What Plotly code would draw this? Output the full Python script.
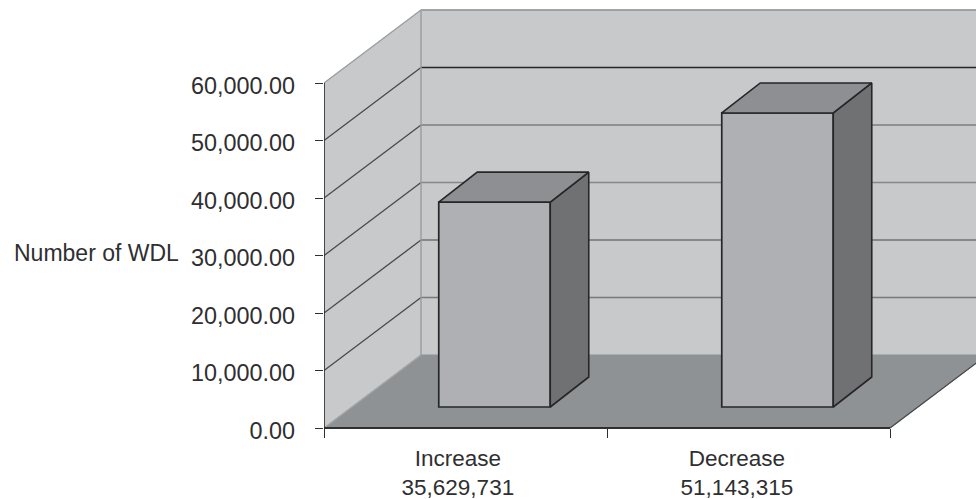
import plotly.graph_objects as go

# Chart content
categories = ["Increase", "Decrease"]
category_totals = ["35,629,731", "51,143,315"]
wdl_values = [35629.731, 51143.315]
y_ticks = [0, 10000, 20000, 30000, 40000, 50000, 60000]
y_tick_labels = ["0.00", "10,000.00", "20,000.00", "30,000.00", "40,000.00", "50,000.00", "60,000.00"]
back_grid_colors = ["#8d8f91", "#77797b", "#6f7173", "#85878a", "#7b7d80", "#26262a", "#8f9193"]
side_grid_colors = ["#a3a5a7", "#46484a", "#46484a", "#46484a", "#46484a", "#46484a", "#9a9c9e"]

# Oblique projection: one step of chart depth in axis units
WIDTH, HEIGHT = 976, 499
LEFT, BOTTOM = 324, 71
BELOW_ZERO = 6            # pixels of plot area kept under the zero line
UNIT_X = 283.0            # pixels per category
UNIT_Y = 57.5 / 10000     # pixels per value unit
DEPTH_X = 97 / UNIT_X
DEPTH_Y = 73 / UNIT_Y
BAR_OFFSET_X = 0.1025
BAR_OFFSET_Y = 21 / UNIT_Y
BAR_WIDTH = 0.394
BAR_DEPTH_X = 38.5 / UNIT_X
BAR_DEPTH_Y = 30 / UNIT_Y
X_MAX = (WIDTH - LEFT) / UNIT_X
Y_MIN = -BELOW_ZERO / UNIT_Y
Y_MAX = (HEIGHT - BOTTOM) / UNIT_Y
X_END = len(categories)
LABEL_DROP = 2.5 / UNIT_Y  # value labels sit slightly below their tick marks
PLOT_HEIGHT = HEIGHT - BOTTOM + BELOW_ZERO

WALL = "#c8c9cb"
FLOOR = "#8f9294"
FRONT = "#afb0b3"
TOP = "#8e8f92"
SIDE = "#707173"
EDGE = "#262628"
TEXT = "#2f2f31"
FONT = "Liberation Sans, Arial, sans-serif"


def polygon(points, fill, line=None, width=1):
    path = "M " + " L ".join(f"{x} {y}" for x, y in points) + " Z"
    return dict(type="path", path=path, xref="x", yref="y", layer="below",
                fillcolor=fill, line=dict(color=line or fill, width=width))


def segment(x0, y0, x1, y1, color, width=1.2, layer="below"):
    return dict(type="line", x0=x0, y0=y0, x1=x1, y1=y1, xref="x", yref="y",
                layer=layer, line=dict(color=color, width=width))


top_tick = y_ticks[-1]
shapes = [
    # back wall, side wall, floor
    polygon([(DEPTH_X, DEPTH_Y), (X_MAX + 1, DEPTH_Y), (X_MAX + 1, top_tick + DEPTH_Y), (DEPTH_X, top_tick + DEPTH_Y)], WALL),
    polygon([(0, 0), (DEPTH_X, DEPTH_Y), (DEPTH_X, top_tick + DEPTH_Y), (0, top_tick)], WALL),
    polygon([(0, 0), (X_END, 0), (X_END + DEPTH_X, DEPTH_Y), (DEPTH_X, DEPTH_Y)], FLOOR),
]
for tick, back_color, side_color in zip(y_ticks, back_grid_colors, side_grid_colors):
    if tick > 0:
        shapes.append(segment(DEPTH_X, tick + DEPTH_Y, X_MAX + 1, tick + DEPTH_Y, back_color, 1.6))
    shapes.append(segment(0, tick, DEPTH_X, tick + DEPTH_Y, side_color, 1.3))
shapes += [
    segment(DEPTH_X, DEPTH_Y, DEPTH_X, top_tick + DEPTH_Y, "#9a9c9e", 1.4),
    segment(X_END, 0, X_END + DEPTH_X, DEPTH_Y, "#46484a", 1.3),
    # axis lines
    segment(0, 0, 0, top_tick, "#2f2f31", 1.7, "above"),
    segment(0, 0, X_END, 0, "#2f2f31", 2, "above"),
]

fig = go.Figure()

bar_centers = [i + 0.5 + BAR_OFFSET_X for i in range(len(categories))]
fig.add_trace(go.Bar(
    x=bar_centers,
    y=wdl_values,
    base=BAR_OFFSET_Y,
    width=BAR_WIDTH,
    marker=dict(color=FRONT, line=dict(color=EDGE, width=1.7)),
    hoverinfo="skip",
))

# Top and right faces of each bar
for center, value in zip(bar_centers, wdl_values):
    left = center - BAR_WIDTH / 2
    right = center + BAR_WIDTH / 2
    low = BAR_OFFSET_Y
    high = BAR_OFFSET_Y + value
    fig.add_trace(go.Scatter(
        x=[right, right + BAR_DEPTH_X, right + BAR_DEPTH_X, right, right],
        y=[low, low + BAR_DEPTH_Y, high + BAR_DEPTH_Y, high, low],
        mode="lines", fill="toself", fillcolor=SIDE,
        line=dict(color=EDGE, width=1.6), hoverinfo="skip",
    ))
    fig.add_trace(go.Scatter(
        x=[left, right, right + BAR_DEPTH_X, left + BAR_DEPTH_X, left],
        y=[high, high, high + BAR_DEPTH_Y, high + BAR_DEPTH_Y, high],
        mode="lines", fill="toself", fillcolor=TOP,
        line=dict(color=EDGE, width=1.6), hoverinfo="skip",
    ))

# Carrier for the second y axis, which holds the value labels
fig.add_trace(go.Scatter(x=[None], y=[None], yaxis="y2", hoverinfo="skip"))

fig.update_layout(
    width=WIDTH,
    height=HEIGHT,
    margin=dict(l=LEFT, r=0, t=0, b=BOTTOM - BELOW_ZERO, autoexpand=False),
    paper_bgcolor="white",
    plot_bgcolor="rgba(0,0,0,0)",
    showlegend=False,
    shapes=shapes,
    font=dict(family=FONT, size=22.5, color=TEXT),
    xaxis=dict(
        range=[0, X_MAX],
        anchor="free",
        position=BELOW_ZERO / PLOT_HEIGHT,
        showgrid=False,
        zeroline=False,
        showline=False,
        ticks="",
        tickmode="array",
        tickvals=[0.473, 1.459],
        ticktext=[f"{c}<br>{t}" for c, t in zip(categories, category_totals)],
        tickangle=0,
        ticklabelstandoff=14,
        minor=dict(tickmode="array", tickvals=list(range(X_END + 1)), ticks="outside",
                   ticklen=9, tickwidth=1.4, tickcolor="#2f2f31", showgrid=False),
    ),
    yaxis=dict(
        range=[Y_MIN, Y_MAX],
        showgrid=False,
        zeroline=False,
        showline=False,
        tickmode="array",
        tickvals=y_ticks,
        showticklabels=False,
        ticks="outside",
        ticklen=8,
        tickwidth=1.4,
        tickcolor="#2f2f31",
    ),
    yaxis2=dict(
        overlaying="y",
        side="left",
        anchor="x",
        range=[Y_MIN + LABEL_DROP, Y_MAX + LABEL_DROP],
        showgrid=False,
        zeroline=False,
        showline=False,
        tickmode="array",
        tickvals=y_ticks,
        ticktext=y_tick_labels,
        tickfont=dict(size=23.4),
        ticks="",
        ticklabelstandoff=28,
    ),
    annotations=[dict(
        text="Number of WDL",
        xref="paper", yref="y",
        x=0, xshift=-143, y=30000, yshift=3,
        xanchor="right", yanchor="middle",
        font=dict(size=23),
        showarrow=False,
    )],
)

fig.write_html("out.html")
